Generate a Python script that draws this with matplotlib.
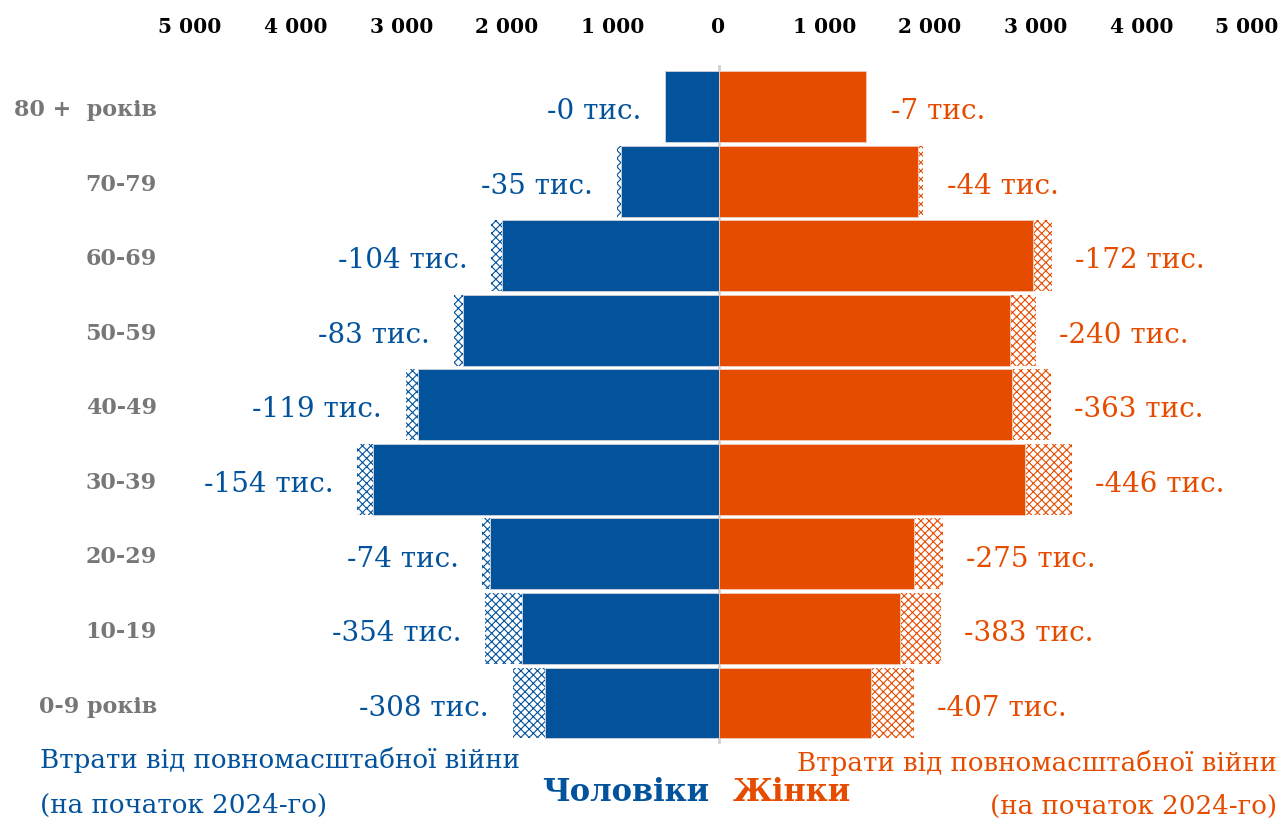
import numpy as np
import matplotlib.pyplot as plt

# age groups, bottom to top
ages = ['0-9 років', '10-19', '20-29', '30-39', '40-49', '50-59', '60-69', '70-79', '80 +  років']
# population, thousands (beginning of 2024)
men = [1640, 1855, 2160, 3265, 2840, 2420, 2045, 927, 510]
women = [1440, 1720, 1845, 2895, 2780, 2760, 2980, 1890, 1400]
# losses from the full-scale war, thousands
men_loss = [308, 354, 74, 154, 119, 83, 104, 35, 0]
women_loss = [407, 383, 275, 446, 363, 240, 172, 44, 7]
ticks = [-5000, -4000, -3000, -2000, -1000, 0, 1000, 2000, 3000, 4000, 5000]

BLUE = '#02529c'
ORANGE = '#e64c00'
SERIF = 'DejaVu Serif'

plt.rcParams['hatch.linewidth'] = 0.8

fig = plt.figure(figsize=(12.82, 8.2), dpi=100)
ax = fig.add_axes([190 / 1282, 1 - 741.3 / 820, 1057 / 1282, 671 / 820])

y = np.arange(len(ages))
men = np.array(men)
women = np.array(women)
men_loss = np.array(men_loss)
women_loss = np.array(women_loss)
h = 0.95

# solid bars
ax.barh(y, -men, height=h, color=BLUE, edgecolor='#c5cdd8', linewidth=0.7, zorder=3)
ax.barh(y, women, height=h, color=ORANGE, edgecolor='#f0c8b4', linewidth=0.7, zorder=3)
# hatched losses
ax.barh(y, -men_loss, left=-men, height=h, color='white', edgecolor=BLUE,
        hatch='xxxx', linewidth=0, zorder=2)
ax.barh(y, women_loss, left=women, height=h, color='white', edgecolor=ORANGE,
        hatch='xxxx', linewidth=0, zorder=2)

# center line
ax.plot([0, 0], [-0.52, 8.55], color='#d0d0d0', lw=2, zorder=1, clip_on=False)

for i in range(len(ages)):
    ax.annotate(f'-{men_loss[i]} тис.', xy=(-(men[i] + men_loss[i]), i), xytext=(-17, -3),
                textcoords='offset points', ha='right', va='center',
                fontsize=20, color=BLUE, family=SERIF)
    ax.annotate(f'-{women_loss[i]} тис.', xy=(women[i] + women_loss[i], i), xytext=(17, -3),
                textcoords='offset points', ha='left', va='center',
                fontsize=20, color=ORANGE, family=SERIF)

ax.set_xlim(-5000, 5000)
ax.set_ylim(-0.5, 8.5)
ax.xaxis.tick_top()
ax.set_xticks(ticks)
ax.set_xticklabels([f'{abs(t):,}'.replace(',', ' ') for t in ticks],
                   fontsize=14.5, fontweight='bold', family=SERIF)
ax.tick_params(axis='x', length=0, pad=24)
ax.set_yticks(y)
ax.set_yticklabels(ages, fontsize=16, fontweight='bold', color='#777777', family=SERIF)
ax.tick_params(axis='y', length=0, pad=24)
for s in ax.spines.values():
    s.set_visible(False)

# bottom captions
fig.text(40 / 1282, 1 - 760 / 820, 'Втрати від повномасштабної війни', color=BLUE,
         fontsize=18.8, family=SERIF, va='center', ha='left')
fig.text(40 / 1282, 1 - 805 / 820, '(на початок 2024-го)', color=BLUE,
         fontsize=18.8, family=SERIF, va='center', ha='left')
fig.text(1277 / 1282, 1 - 763 / 820, 'Втрати від повномасштабної війни', color=ORANGE,
         fontsize=18.8, family=SERIF, va='center', ha='right')
fig.text(1277 / 1282, 1 - 806 / 820, '(на початок 2024-го)', color=ORANGE,
         fontsize=18.8, family=SERIF, va='center', ha='right')
fig.text(709 / 1282, 1 - 793 / 820, 'Чоловіки', color=BLUE, fontsize=22,
         fontweight='bold', family=SERIF, va='center', ha='right')
fig.text(733 / 1282, 1 - 793 / 820, 'Жінки', color=ORANGE, fontsize=22,
         fontweight='bold', family=SERIF, va='center', ha='left')

fig.savefig('out.png', dpi=100, facecolor='white')
